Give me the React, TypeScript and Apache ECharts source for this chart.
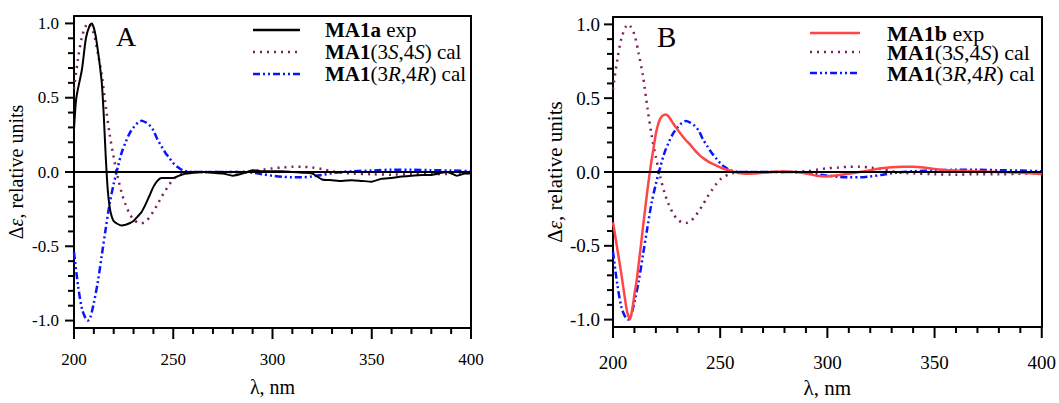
import React, { useEffect, useRef } from 'react';
import * as echarts from 'echarts';

// Panel A experimental (MA1a exp)
const xA_exp = [200,201,202,204,206,208,209,210,211,212,213,214,215,216,217,218,219,220,222,224,226,228,230,232,234,236,238,240,242,244,246,248,250,252,255,260,265,270,275,280,285,290,295,300,305,310,315,320,325,330,335,340,345,350,355,360,365,370,375,380,385,388,393,397,400];
const yA_exp = [0.29,0.48,0.56,0.69,0.90,0.99,1.0,0.97,0.91,0.82,0.72,0.60,0.38,0.10,-0.12,-0.24,-0.30,-0.33,-0.35,-0.36,-0.355,-0.345,-0.33,-0.30,-0.27,-0.22,-0.16,-0.10,-0.06,-0.04,-0.04,-0.04,-0.04,-0.03,-0.015,-0.005,0,-0.005,-0.01,-0.025,-0.01,0.012,0.005,0.005,0.005,0,-0.005,-0.01,-0.05,-0.055,-0.06,-0.055,-0.06,-0.065,-0.045,-0.04,-0.03,-0.025,-0.02,-0.02,-0.005,0,-0.025,-0.01,-0.01];

// Calculated curves (same in both panels)
const xCalc = [200,202,204,206,207,208,210,212,214,216,218,220,222,224,226,228,230,232,234,236,238,240,242,244,246,248,250,252,255,260,270,280,290,295,300,305,310,315,320,325,330,335,340,350,360,370,380,390,400];
const y3S4S = [0.56,0.76,0.91,0.985,1.0,0.99,0.93,0.80,0.65,0.44,0.25,0.10,-0.03,-0.14,-0.22,-0.28,-0.32,-0.34,-0.345,-0.335,-0.305,-0.265,-0.22,-0.17,-0.125,-0.085,-0.05,-0.03,-0.01,0,0,0,0.005,0.015,0.025,0.03,0.035,0.035,0.03,0.02,0.005,-0.005,-0.01,-0.015,-0.018,-0.015,-0.015,-0.012,-0.005];
const y3R4R = [-0.54,-0.76,-0.92,-0.99,-1.0,-0.99,-0.88,-0.74,-0.56,-0.38,-0.21,-0.08,0.03,0.13,0.20,0.26,0.30,0.33,0.345,0.335,0.315,0.28,0.22,0.175,0.13,0.095,0.06,0.035,0.01,0,0,0,-0.005,-0.015,-0.025,-0.032,-0.036,-0.036,-0.03,-0.02,-0.008,0,0.005,0.01,0.015,0.015,0.012,0.01,0.005];

// Panel B experimental (MA1b exp)
const xB_exp = [200,202,204,206,207,208,209,210,211,212,213,214,215,216,217,218,219,220,221,222,223,224.5,226,228,230,232,234,236,238,240,242,244,246,248,250,252,255,258,262,266,270,275,280,285,290,295,300,305,310,315,320,325,330,335,340,345,350,355,360,370,380,390,395,400];
const yB_exp = [-0.34,-0.52,-0.70,-0.90,-0.97,-1.0,-0.93,-0.83,-0.74,-0.62,-0.50,-0.37,-0.25,-0.13,-0.02,0.08,0.17,0.26,0.32,0.36,0.38,0.39,0.375,0.33,0.29,0.25,0.215,0.185,0.15,0.12,0.095,0.075,0.058,0.045,0.032,0.02,0.008,-0.005,-0.012,-0.01,-0.005,0.002,0.004,0,-0.01,-0.025,-0.03,-0.022,-0.012,0,0.012,0.025,0.033,0.036,0.036,0.03,0.02,0.014,0.01,0.005,0,-0.005,-0.008,-0.015];

// Tick values
const xMajor = [200, 250, 300, 350, 400];
const xMinor = [200,210,220,230,240,250,260,270,280,290,300,310,320,330,340,350,360,370,380,390,400];
const yMajor = [-1.0, -0.5, 0, 0.5, 1.0];
const yMinor = [-1.0,-0.9,-0.8,-0.7,-0.6,-0.5,-0.4,-0.3,-0.2,-0.1,0,0.1,0.2,0.3,0.4,0.5,0.6,0.7,0.8,0.9,1.0];
const Y_MIN = -1.05;
const Y_MAX = 1.05;

const FONT = 'Liberation Serif';
const PURPLE = '#7a1f60';
const BLUE = '#0a14ff';
const RED = '#ff4545';
const ax = () => ({ color: '#000', width: 2 });

const pairs = (xs: number[], ys: number[]) => xs.map((x, i) => [x, ys[i]]);

function xAxesCfg(grid: number, fs: number, margin: number, nameSize: number, gap: number) {
  return [
    {
      type: 'value', gridIndex: grid, min: 200, max: 400, interval: 50,
      axisLine: { show: true, onZero: false, lineStyle: ax() },
      axisTick: { show: false },
      splitLine: { show: false },
      axisLabel: { fontFamily: FONT, fontSize: fs, color: '#000', margin },
      name: 'λ, nm', nameLocation: 'middle', nameGap: gap,
      nameTextStyle: { fontFamily: FONT, fontSize: nameSize, color: '#000' },
    },
    {
      type: 'value', gridIndex: grid, min: 200, max: 400, position: 'top',
      axisLine: { show: true, onZero: false, lineStyle: ax() },
      axisTick: { show: false }, axisLabel: { show: false }, splitLine: { show: false },
    },
  ];
}

function yAxesCfg(grid: number, fs: number, margin: number, nameSize: number, gap: number) {
  return [
    {
      type: 'value', gridIndex: grid, min: Y_MIN, max: Y_MAX,
      axisLine: { show: true, onZero: false, lineStyle: ax() },
      axisTick: { show: false },
      splitLine: { show: false },
      axisLabel: { customValues: yMajor, fontFamily: FONT, fontSize: fs, color: '#000', margin,
        formatter: (v: number) => v.toFixed(1) },
      name: '{t|Δ}{e|ε}{t|, relative units}', nameLocation: 'middle', nameGap: gap,
      nameTextStyle: { fontFamily: FONT, fontSize: nameSize, color: '#000',
        rich: { t: { fontFamily: FONT, fontSize: nameSize, color: '#000' },
                e: { fontFamily: FONT, fontSize: nameSize, color: '#000', fontStyle: 'italic' } } },
    },
    {
      type: 'value', gridIndex: grid, min: Y_MIN, max: Y_MAX, position: 'right',
      axisLine: { show: true, onZero: false, lineStyle: ax() },
      axisTick: { show: false }, axisLabel: { show: false }, splitLine: { show: false },
    },
  ];
}

function legendGraphics(x1: number, x2: number, tx: number, rows: number[], fs: number, expName: string, expColor: string) {
  const lh = fs - 4;
  const rich = {
    b: { fontFamily: FONT, fontSize: fs, fontWeight: 'bold', fill: '#000', lineHeight: lh },
    n: { fontFamily: FONT, fontSize: fs, fill: '#000', lineHeight: lh },
    i: { fontFamily: FONT, fontSize: fs, fontStyle: 'italic', fill: '#000', lineHeight: lh },
  };
  const texts = [
    `{b|${expName}}{n| exp}`,
    '{b|MA1}{n|(3}{i|S}{n|,4}{i|S}{n|) cal}',
    '{b|MA1}{n|(3}{i|R}{n|,4}{i|R}{n|) cal}',
  ];
  const styles = [
    { stroke: expColor, lineWidth: 2.5 },
    { stroke: PURPLE, lineWidth: 2.5, lineDash: [2, 5] },
    { stroke: BLUE, lineWidth: 2.5, lineDash: [7, 3, 2, 3, 2, 3] },
  ];
  const els: any[] = [];
  rows.forEach((y, k) => {
    els.push({ type: 'line', shape: { x1, y1: y, x2, y2: y }, style: styles[k], silent: true });
    els.push({ type: 'text', x: tx, y, style: { text: texts[k], rich, verticalAlign: 'middle', fontFamily: FONT, fontSize: fs, lineHeight: lh, fill: '#000' }, silent: true });
  });
  return els;
}

const zeroLine = {
  silent: true, symbol: ['none', 'none'], label: { show: false },
  lineStyle: { color: '#000', width: 2, type: 'solid' },
  data: [{ yAxis: 0 }],
};

const isIn = (arr: number[], v: number) => arr.some((a) => Math.abs(a - v) < 1e-9);

export default function App() {
  const ref = useRef<HTMLDivElement>(null);
  useEffect(() => {
    document.body.style.margin = '0';
    const chart = echarts.init(ref.current!, null, { renderer: 'svg' });
    const baseGraphic: any[] = [
      { type: 'text', x: 116, y: 36, style: { text: 'A', fontFamily: FONT, fontSize: 28, fill: '#000', verticalAlign: 'middle' }, silent: true },
      { type: 'text', x: 657, y: 37, style: { text: 'B', fontFamily: FONT, fontSize: 29, fill: '#000', verticalAlign: 'middle' }, silent: true },
      ...legendGraphics(253, 300, 325, [30, 52, 74], 21, 'MA1a', '#000'),
      ...legendGraphics(810, 860, 887, [33, 52, 73], 22, 'MA1b', RED),
    ];
    const option: any = {
      animation: false,
      textStyle: { fontFamily: FONT },
      grid: [
        { left: 74, top: 16, width: 397, height: 312 },
        { left: 613, top: 17, width: 430, height: 318 },
      ],
      xAxis: [...xAxesCfg(0, 17, 23, 20, 49), ...xAxesCfg(1, 19, 26, 21, 50)],
      yAxis: [...yAxesCfg(0, 17, 15, 20, 48), ...yAxesCfg(1, 19, 13, 21, 48)],
      series: [
        { name: 'A 3S4S', type: 'line', xAxisIndex: 0, yAxisIndex: 0, data: pairs(xCalc, y3S4S), showSymbol: false, smooth: 0.3,
          lineStyle: { color: PURPLE, width: 2.5, type: [2, 5] }, markLine: zeroLine },
        { name: 'A 3R4R', type: 'line', xAxisIndex: 0, yAxisIndex: 0, data: pairs(xCalc, y3R4R), showSymbol: false, smooth: 0.3,
          lineStyle: { color: BLUE, width: 2.5, type: [7, 3, 2, 3, 2, 3] } },
        { name: 'MA1a exp', type: 'line', xAxisIndex: 0, yAxisIndex: 0, data: pairs(xA_exp, yA_exp), showSymbol: false, smooth: 0.2,
          lineStyle: { color: '#000', width: 2 } },
        { name: 'B 3S4S', type: 'line', xAxisIndex: 2, yAxisIndex: 2, data: pairs(xCalc, y3S4S), showSymbol: false, smooth: 0.3,
          lineStyle: { color: PURPLE, width: 2.5, type: [2, 5] }, markLine: zeroLine },
        { name: 'B 3R4R', type: 'line', xAxisIndex: 2, yAxisIndex: 2, data: pairs(xCalc, y3R4R), showSymbol: false, smooth: 0.3,
          lineStyle: { color: BLUE, width: 2.5, type: [7, 3, 2, 3, 2, 3] } },
        { name: 'MA1b exp', type: 'line', xAxisIndex: 2, yAxisIndex: 2, data: pairs(xB_exp, yB_exp), showSymbol: false, smooth: 0.15,
          lineStyle: { color: RED, width: 2.5 } },
      ],
      graphic: baseGraphic,
    };
    chart.setOption(option);

    // Tick marks, placed through the axes' own scales
    const tickEls: any[] = [];
    try {
      [{ xi: 0, yi: 0 }, { xi: 2, yi: 2 }].forEach(({ xi, yi }) => {
        const yBottom = chart.convertToPixel({ yAxisIndex: yi } as any, Y_MIN) as unknown as number;
        const xLeft = chart.convertToPixel({ xAxisIndex: xi } as any, 200) as unknown as number;
        if (typeof yBottom !== 'number' || typeof xLeft !== 'number') return;
        xMinor.forEach((v) => {
          const px = chart.convertToPixel({ xAxisIndex: xi } as any, v) as unknown as number;
          const len = isIn(xMajor, v) ? 11 : 6;
          tickEls.push({ type: 'line', shape: { x1: px, y1: yBottom, x2: px, y2: yBottom + len },
            style: { stroke: '#000', lineWidth: 2 }, silent: true });
        });
        yMinor.forEach((v) => {
          const py = chart.convertToPixel({ yAxisIndex: yi } as any, v) as unknown as number;
          const len = isIn(yMajor, v) ? 9 : 6;
          tickEls.push({ type: 'line', shape: { x1: xLeft - len, y1: py, x2: xLeft, y2: py },
            style: { stroke: '#000', lineWidth: 2 }, silent: true });
        });
      });
    } catch (e) {
      // leave ticks out if conversion fails
    }
    if (tickEls.length) chart.setOption({ graphic: [...baseGraphic, ...tickEls] });
    return () => chart.dispose();
  }, []);
  return <div ref={ref} style={{ width: 1059, height: 403, background: '#fff' }} />;
}
